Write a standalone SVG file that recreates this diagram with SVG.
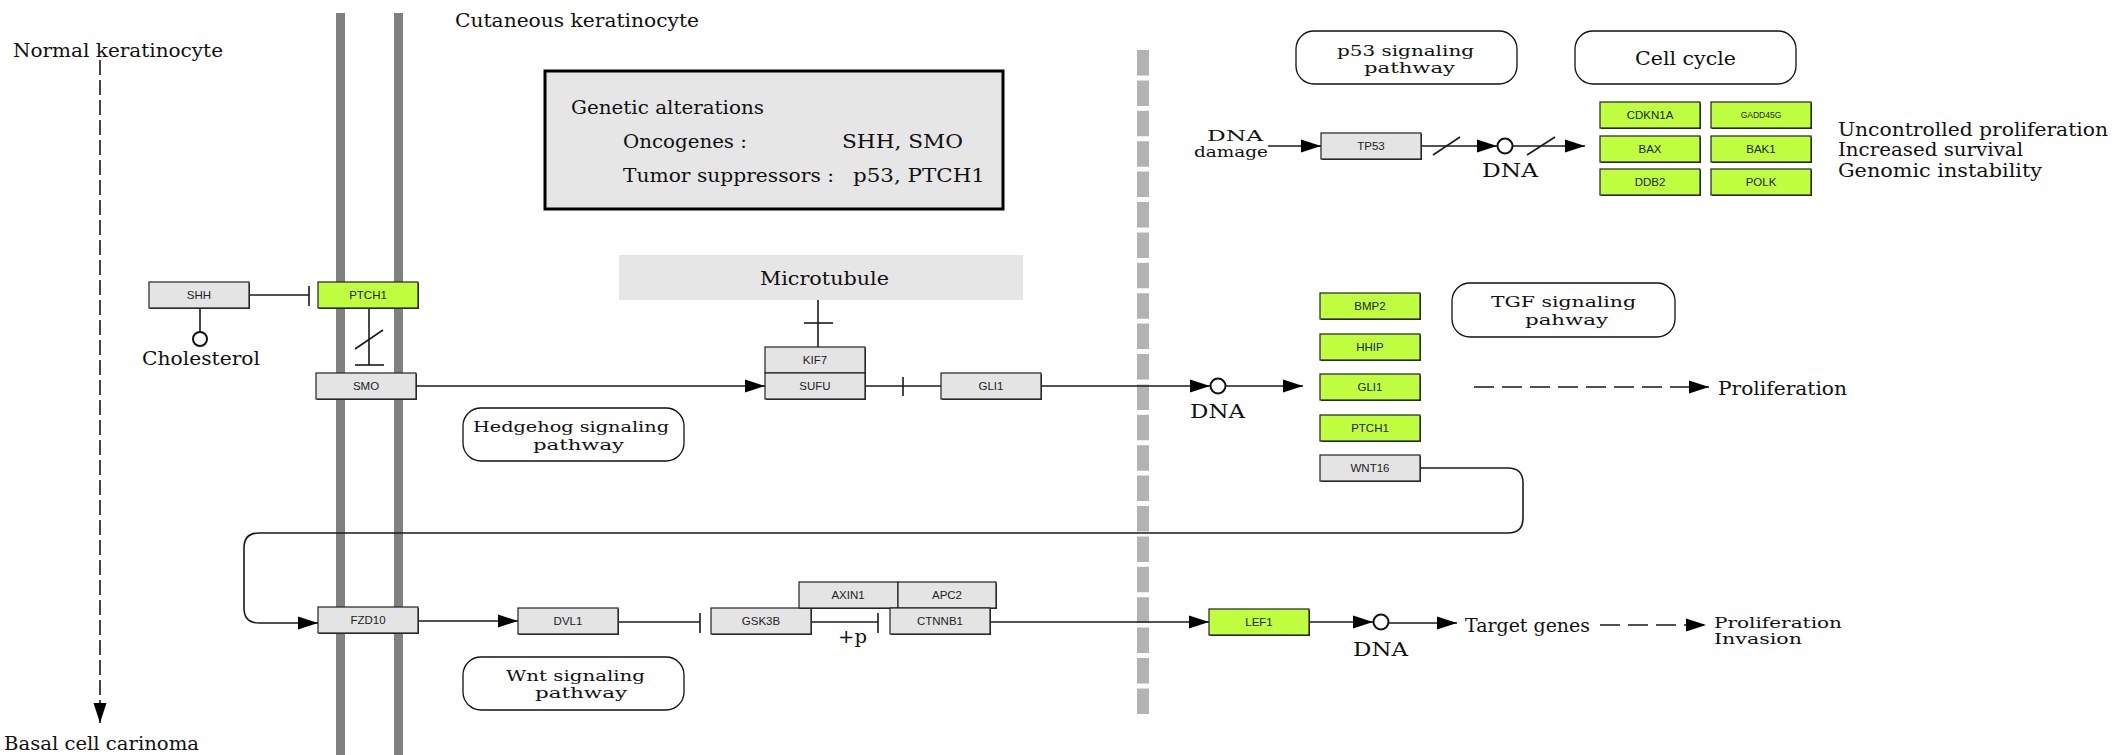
<svg xmlns="http://www.w3.org/2000/svg" width="2113" height="755" viewBox="0 0 2113 755">
<style>
.bg{fill:#ffffff}
.mem{fill:#808080}
.g{fill:#e4e4e4;stroke:#222;stroke-width:1.2}
.gr{fill:#bfff3f;stroke:#222;stroke-width:1.2}
.sh{fill:#333}
.lbl{font-family:"Liberation Sans",Arial,sans-serif;font-size:11.5px;fill:#222;text-anchor:middle}
.t{font-family:"DejaVu Serif","Liberation Serif",serif;font-size:18px;fill:#111}
.t2{font-family:"DejaVu Serif","Liberation Serif",serif;font-size:15.5px;fill:#111}
.pw{fill:#fff;stroke:#111;stroke-width:1.3}
.ln{stroke:#1a1a1a;stroke-width:1.6;fill:none}
.dash{stroke:#1a1a1a;stroke-width:1.6;fill:none;stroke-dasharray:20 8}
</style>
<defs>
<marker id="a" viewBox="0 0 20 14" refX="20" refY="7" markerWidth="20" markerHeight="14" markerUnits="userSpaceOnUse" orient="auto"><path d="M0,0.5 L20,7 L0,13.5 Z" fill="#000"/></marker>
</defs>
<rect class="bg" x="0" y="0" width="2113" height="755"/>

<g id="membrane">
<rect class="mem" x="336" y="13" width="9" height="742"/>
<rect class="mem" x="394" y="13" width="9" height="742"/>
<line x1="1143" y1="50" x2="1143" y2="714" stroke="#b3b3b3" stroke-width="12" stroke-dasharray="25.5 4.9"/>
</g>

<g id="labels">
<text class="t" x="455" y="27" textLength="244" lengthAdjust="spacingAndGlyphs">Cutaneous keratinocyte</text>
<text class="t" x="13" y="57" textLength="210" lengthAdjust="spacingAndGlyphs">Normal keratinocyte</text>
<text class="t" x="4" y="750" textLength="195" lengthAdjust="spacingAndGlyphs">Basal cell carinoma</text>
<text class="t" x="142" y="365" textLength="118" lengthAdjust="spacingAndGlyphs">Cholesterol</text>
<text class="t" x="1190" y="418" textLength="55" lengthAdjust="spacingAndGlyphs">DNA</text>
<text class="t2" x="1207" y="141" textLength="56" lengthAdjust="spacingAndGlyphs">DNA</text>
<text class="t2" x="1194" y="157" textLength="74" lengthAdjust="spacingAndGlyphs">damage</text>
<text class="t" x="1482" y="177" textLength="56" lengthAdjust="spacingAndGlyphs">DNA</text>
<text class="t" x="1838" y="136" textLength="270" lengthAdjust="spacingAndGlyphs">Uncontrolled proliferation</text>
<text class="t" x="1838" y="156" textLength="185" lengthAdjust="spacingAndGlyphs">Increased survival</text>
<text class="t" x="1838" y="177" textLength="204" lengthAdjust="spacingAndGlyphs">Genomic instability</text>
<text class="t" x="1718" y="395" textLength="129" lengthAdjust="spacingAndGlyphs">Proliferation</text>
<text class="t" x="1353" y="656" textLength="55" lengthAdjust="spacingAndGlyphs">DNA</text>
<text class="t" x="1465" y="632" textLength="125" lengthAdjust="spacingAndGlyphs">Target genes</text>
<text class="t2" x="1714" y="628" textLength="128" lengthAdjust="spacingAndGlyphs">Proliferation</text>
<text class="t2" x="1714" y="644" textLength="88" lengthAdjust="spacingAndGlyphs">Invasion</text>
<text class="t" x="838" y="643" textLength="29" lengthAdjust="spacingAndGlyphs">+p</text>
</g>

<g id="genetic-alterations">
<rect x="545" y="71" width="458" height="138" fill="#e6e6e6" stroke="#000" stroke-width="3"/>
<text class="t" x="571" y="114" textLength="193" lengthAdjust="spacingAndGlyphs">Genetic alterations</text>
<text class="t" x="623" y="148" textLength="124" lengthAdjust="spacingAndGlyphs">Oncogenes :</text>
<text class="t" x="842" y="148" textLength="121" lengthAdjust="spacingAndGlyphs">SHH, SMO</text>
<text class="t" x="623" y="182" textLength="211" lengthAdjust="spacingAndGlyphs">Tumor suppressors :</text>
<text class="t" x="853" y="182" textLength="132" lengthAdjust="spacingAndGlyphs">p53, PTCH1</text>
</g>

<g id="microtubule">
<rect x="619" y="255" width="404" height="45" fill="#e6e6e6"/>
<text class="t" x="760" y="285" textLength="129" lengthAdjust="spacingAndGlyphs">Microtubule</text>
</g>

<g id="pathway-hedgehog">
<rect class="pw" x="463" y="408" width="221" height="53" rx="18"/>
<text class="t2" x="473" y="432" textLength="196" lengthAdjust="spacingAndGlyphs">Hedgehog signaling</text>
<text class="t2" x="533" y="450" textLength="91" lengthAdjust="spacingAndGlyphs">pathway</text>
</g>
<g id="pathway-wnt">
<rect class="pw" x="463" y="657" width="221" height="53" rx="18"/>
<text class="t2" x="506" y="681" textLength="139" lengthAdjust="spacingAndGlyphs">Wnt signaling</text>
<text class="t2" x="535" y="698" textLength="92" lengthAdjust="spacingAndGlyphs">pathway</text>
</g>
<g id="pathway-p53">
<rect class="pw" x="1296" y="31" width="221" height="53" rx="18"/>
<text class="t2" x="1337" y="56" textLength="137" lengthAdjust="spacingAndGlyphs">p53 signaling</text>
<text class="t2" x="1364" y="73" textLength="91" lengthAdjust="spacingAndGlyphs">pathway</text>
</g>
<g id="pathway-cellcycle">
<rect class="pw" x="1575" y="31" width="221" height="53" rx="18"/>
<text class="t" x="1635" y="65" textLength="101" lengthAdjust="spacingAndGlyphs">Cell cycle</text>
</g>
<g id="pathway-tgf">
<rect class="pw" x="1452" y="283" width="223" height="54" rx="18"/>
<text class="t2" x="1491" y="307" textLength="145" lengthAdjust="spacingAndGlyphs">TGF signaling</text>
<text class="t2" x="1525" y="325" textLength="83" lengthAdjust="spacingAndGlyphs">pahway</text>
</g>

<g id="connectors">
<line class="ln" x1="100" y1="60" x2="100" y2="723" stroke-dasharray="15 5" marker-end="url(#a)"/>
<line class="ln" x1="249" y1="295" x2="309" y2="295"/>
<line class="ln" x1="309" y1="286" x2="309" y2="306"/>
<line class="ln" x1="200" y1="308" x2="200" y2="332"/>
<circle cx="200" cy="339" r="7" fill="#fff" stroke="#111" stroke-width="2"/>
<line class="ln" x1="369" y1="308" x2="369" y2="365"/>
<line class="ln" x1="355" y1="365" x2="384" y2="365"/>
<line class="ln" x1="355" y1="349" x2="383" y2="330"/>
<line class="ln" x1="416" y1="386" x2="765" y2="386" marker-end="url(#a)"/>
<line class="ln" x1="818" y1="300" x2="818" y2="347"/>
<line class="ln" x1="804" y1="323" x2="833" y2="323"/>
<line class="ln" x1="865" y1="386" x2="941" y2="386"/>
<line class="ln" x1="903" y1="377" x2="903" y2="396"/>
<line class="ln" x1="1042" y1="386" x2="1210" y2="386" marker-end="url(#a)"/>
<circle cx="1218" cy="386" r="7.5" fill="#fff" stroke="#111" stroke-width="2"/>
<line class="ln" x1="1226" y1="386" x2="1303" y2="386" marker-end="url(#a)"/>
<line class="dash" x1="1474" y1="387" x2="1709" y2="387" marker-end="url(#a)"/>
<line class="ln" x1="1268" y1="146" x2="1321" y2="146" marker-end="url(#a)"/>
<line class="ln" x1="1422" y1="146" x2="1497" y2="146" marker-end="url(#a)"/>
<line class="ln" x1="1433" y1="155" x2="1460" y2="137"/>
<circle cx="1505" cy="146" r="7.5" fill="#fff" stroke="#111" stroke-width="2"/>
<line class="ln" x1="1513" y1="146" x2="1585" y2="146" marker-end="url(#a)"/>
<line class="ln" x1="1527" y1="155" x2="1555" y2="137"/>
<path class="ln" d="M1421,468 H1508 Q1523,468 1523,483 V518 Q1523,533 1508,533 H259 Q244,533 244,548 V608 Q244,623 259,623 H318" marker-end="url(#a)"/>
<line class="ln" x1="418" y1="621" x2="518" y2="621" marker-end="url(#a)"/>
<line class="ln" x1="618" y1="622" x2="700" y2="622"/>
<line class="ln" x1="700" y1="613" x2="700" y2="633"/>
<line class="ln" x1="811" y1="622" x2="878" y2="622"/>
<line class="ln" x1="878" y1="613" x2="878" y2="633"/>
<line class="ln" x1="990" y1="622" x2="1209" y2="622" marker-end="url(#a)"/>
<line class="ln" x1="1309" y1="622" x2="1373" y2="622" marker-end="url(#a)"/>
<circle cx="1381" cy="622" r="7.5" fill="#fff" stroke="#111" stroke-width="2"/>
<line class="ln" x1="1389" y1="623" x2="1457" y2="623" marker-end="url(#a)"/>
<line class="dash" x1="1600" y1="625" x2="1706" y2="625" marker-end="url(#a)"/>
</g>

<g id="SHH"><rect class="sh" x="150" y="283" width="100" height="26"/><rect class="g" x="149" y="282" width="100" height="26"/><text class="lbl" x="199" y="299">SHH</text></g>
<g id="PTCH1-m"><rect class="sh" x="319" y="283" width="100" height="26"/><rect class="gr" x="318" y="282" width="100" height="26"/><text class="lbl" x="368" y="299">PTCH1</text></g>
<g id="SMO"><rect class="sh" x="317" y="374" width="100" height="26"/><rect class="g" x="316" y="373" width="100" height="26"/><text class="lbl" x="366" y="390">SMO</text></g>
<g id="KIF7"><rect class="sh" x="766" y="348" width="100" height="26"/><rect class="g" x="765" y="347" width="100" height="26"/><text class="lbl" x="815" y="364">KIF7</text></g>
<g id="SUFU"><rect class="sh" x="766" y="374" width="100" height="26"/><rect class="g" x="765" y="373" width="100" height="26"/><text class="lbl" x="815" y="390">SUFU</text></g>
<g id="GLI1-c"><rect class="sh" x="942" y="374" width="100" height="26"/><rect class="g" x="941" y="373" width="100" height="26"/><text class="lbl" x="991" y="390">GLI1</text></g>
<g id="TP53"><rect class="sh" x="1322" y="134" width="100" height="26"/><rect class="g" x="1321" y="133" width="100" height="26"/><text class="lbl" x="1371" y="150">TP53</text></g>
<g id="CDKN1A"><rect class="sh" x="1601" y="103" width="100" height="26"/><rect class="gr" x="1600" y="102" width="100" height="26"/><text class="lbl" x="1650" y="119">CDKN1A</text></g>
<g id="GADD45G"><rect class="sh" x="1712" y="103" width="100" height="26"/><rect class="gr" x="1711" y="102" width="100" height="26"/><text class="lbl" x="1761" y="118" style="font-size:8.5px">GADD45G</text></g>
<g id="BAX"><rect class="sh" x="1601" y="137" width="100" height="26"/><rect class="gr" x="1600" y="136" width="100" height="26"/><text class="lbl" x="1650" y="153">BAX</text></g>
<g id="BAK1"><rect class="sh" x="1712" y="137" width="100" height="26"/><rect class="gr" x="1711" y="136" width="100" height="26"/><text class="lbl" x="1761" y="153">BAK1</text></g>
<g id="DDB2"><rect class="sh" x="1601" y="170" width="100" height="26"/><rect class="gr" x="1600" y="169" width="100" height="26"/><text class="lbl" x="1650" y="186">DDB2</text></g>
<g id="POLK"><rect class="sh" x="1712" y="170" width="100" height="26"/><rect class="gr" x="1711" y="169" width="100" height="26"/><text class="lbl" x="1761" y="186">POLK</text></g>
<g id="BMP2"><rect class="sh" x="1321" y="294" width="100" height="26"/><rect class="gr" x="1320" y="293" width="100" height="26"/><text class="lbl" x="1370" y="310">BMP2</text></g>
<g id="HHIP"><rect class="sh" x="1321" y="335" width="100" height="26"/><rect class="gr" x="1320" y="334" width="100" height="26"/><text class="lbl" x="1370" y="351">HHIP</text></g>
<g id="GLI1-t"><rect class="sh" x="1321" y="375" width="100" height="26"/><rect class="gr" x="1320" y="374" width="100" height="26"/><text class="lbl" x="1370" y="391">GLI1</text></g>
<g id="PTCH1-t"><rect class="sh" x="1321" y="416" width="100" height="26"/><rect class="gr" x="1320" y="415" width="100" height="26"/><text class="lbl" x="1370" y="432">PTCH1</text></g>
<g id="WNT16"><rect class="sh" x="1321" y="456" width="100" height="26"/><rect class="g" x="1320" y="455" width="100" height="26"/><text class="lbl" x="1370" y="472">WNT16</text></g>
<g id="FZD10"><rect class="sh" x="319" y="608" width="100" height="26"/><rect class="g" x="318" y="607" width="100" height="26"/><text class="lbl" x="368" y="624">FZD10</text></g>
<g id="DVL1"><rect class="sh" x="519" y="609" width="100" height="26"/><rect class="g" x="518" y="608" width="100" height="26"/><text class="lbl" x="568" y="625">DVL1</text></g>
<g id="GSK3B"><rect class="sh" x="712" y="609" width="100" height="26"/><rect class="g" x="711" y="608" width="100" height="26"/><text class="lbl" x="761" y="625">GSK3B</text></g>
<g id="AXIN1"><rect class="sh" x="800" y="583" width="99" height="26"/><rect class="g" x="799" y="582" width="99" height="26"/><text class="lbl" x="848" y="599">AXIN1</text></g>
<g id="APC2"><rect class="sh" x="899" y="583" width="98" height="26"/><rect class="g" x="898" y="582" width="98" height="26"/><text class="lbl" x="947" y="599">APC2</text></g>
<g id="CTNNB1"><rect class="sh" x="891" y="609" width="100" height="26"/><rect class="g" x="890" y="608" width="100" height="26"/><text class="lbl" x="940" y="625">CTNNB1</text></g>
<g id="LEF1"><rect class="sh" x="1210" y="610" width="100" height="26"/><rect class="gr" x="1209" y="609" width="100" height="26"/><text class="lbl" x="1259" y="626">LEF1</text></g>
</svg>
